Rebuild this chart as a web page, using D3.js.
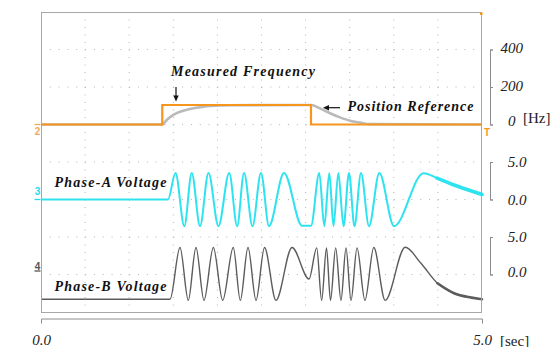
<!DOCTYPE html>
<html>
<head>
<meta charset="utf-8">
<script src="https://cdn.jsdelivr.net/npm/d3@7"></script>
<style>
  html, body { margin: 0; padding: 0; background: #fff; }
  svg { display: block; }
</style>
</head>
<body>
<script>
// ---- Channel 2: measured frequency (step) and position reference [Hz] ----
const timeFreq = [0, 1.375, 3.061, 5.0];
const freqMeasured = [0, 104, 0, 0];

const timeRef = [0, 1.375, 1.425, 1.5, 1.576, 1.689, 1.803, 1.916, 2.143, 3.061, 3.163, 3.277, 3.39, 3.503, 3.617, 3.73, 5.0];
const freqRef = [0, 0, 24, 51, 68, 83, 92, 99, 103, 104, 86, 60, 38, 20, 10, 2, 0];

// ---- Channel 3: phase-A voltage [V] (turning points of the trace) ----
const timeA = [0, 1.44, 1.525, 1.625, 1.709, 1.803, 1.899, 2.012, 2.134, 2.224, 2.302, 2.398, 2.494, 2.585,
  2.755, 2.959, 3.061, 3.155, 3.212, 3.269, 3.316, 3.371, 3.430, 3.492, 3.554, 3.628, 3.719,
  3.836, 4.002, 4.337, 4.490, 4.683, 4.864, 5.0];
const voltA = [0, 0, 3.55, -3.55, 3.55, -3.55, 3.55, -3.55, 3.55, -3.55, 3.55, -3.55, 3.55, -3.55,
  3.55, -3.5, -3.5, 3.55, -3.55, 3.55, -3.55, 3.55, -3.55, 3.55, -3.55, 3.55, -3.55,
  3.55, -3.55, 3.5, 2.85, 1.93, 1.2, 0.67];

// ---- Channel 4: phase-B voltage [V] ----
const timeB = [0, 1.463, 1.576, 1.670, 1.757, 1.848, 1.954, 2.060, 2.180, 2.260, 2.347, 2.438, 2.534, 2.664,
  2.846, 3.039, 3.126, 3.182, 3.237, 3.282, 3.341, 3.401, 3.458, 3.515, 3.583, 3.673,
  3.773, 3.902, 4.129, 4.308, 4.495, 4.683, 4.875, 5.0];
const voltB = [-3.3, -3.3, 3.6, -3.45, 3.6, -3.45, 3.6, -3.45, 3.6, -3.45, 3.6, -3.45, 3.6, -3.45,
  3.6, -0.6, 3.55, -3.45, 3.55, -3.45, 3.55, -3.45, 3.55, -3.45, 3.55, -3.45,
  3.6, -3.45, 3.63, 1.49, -1.17, -2.5, -3.07, -3.3];

// ---- Tick labels ----
const freqTicks = [0, 200, 400];
const voltTicks = [0, 5];
const timeTicks = [0, 5];

const W = 557, H = 347;
const plotL = 41, plotR = 482, plotT = 12, plotB = 312;
const serif = "'Liberation Serif', 'DejaVu Serif', serif";
const sans = "'Liberation Sans', Arial, sans-serif";

const svg = d3.select("body").append("svg").attr("width", W).attr("height", H);

const x = d3.scaleLinear().domain([0, 5]).range([plotL, plotR]);
const yF = d3.scaleLinear().domain([0, 400]).range([124.5, 49.5]);
const yA = d3.scaleLinear().domain([0, 5]).range([199.5, 162]);
const yB = d3.scaleLinear().domain([0, 5]).range([274.5, 237]);
const gridRow = d3.scaleLinear().domain([0, 8]).range([plotT, plotB]);

// dotted graticule
const grid = svg.append("g").attr("stroke", "#b4b4b4").attr("stroke-width", 1);
grid.selectAll("line.h").data(d3.range(1, 8)).join("line").attr("class", "h")
  .attr("x1", plotL).attr("x2", plotR)
  .attr("y1", d => gridRow(d)).attr("y2", d => gridRow(d))
  .attr("stroke-dasharray", "1,7.82");
grid.selectAll("line.v").data(d3.range(1, 10)).join("line").attr("class", "v")
  .attr("y1", plotT).attr("y2", plotB)
  .attr("x1", d => x(d * 0.5)).attr("x2", d => x(d * 0.5))
  .attr("stroke-dasharray", "1,6.5");

const zip = (ts, vs) => ts.map((t, i) => [t, vs[i]]);

// position reference (grey)
svg.append("path")
  .datum(zip(timeRef, freqRef))
  .attr("fill", "none").attr("stroke", "#bababa").attr("stroke-width", 2.6)
  .attr("d", d3.line().x(d => x(d[0])).y(d => yF(d[1])).curve(d3.curveMonotoneX));

// measured frequency (orange step)
svg.append("path")
  .datum(zip(timeFreq, freqMeasured))
  .attr("fill", "none").attr("stroke", "#f7961e").attr("stroke-width", 2.2)
  .attr("d", d3.line().x(d => x(d[0])).y(d => yF(d[1])).curve(d3.curveStepAfter));

// phase voltages
function trace(ts, vs, scale, color, width, tailFrom, tailWidth) {
  const pts = zip(ts, vs);
  const line = d3.line().x(d => x(d[0])).y(d => scale(d[1])).curve(d3.curveMonotoneX);
  svg.append("path").datum(pts)
    .attr("fill", "none").attr("stroke", color).attr("stroke-width", width)
    .attr("stroke-linejoin", "round").attr("d", line);
  // the slow decay at the end of the run is drawn as a wider band
  const tail = pts.filter(d => d[0] >= tailFrom);
  svg.append("path").datum(tail)
    .attr("fill", "none").attr("stroke", color).attr("stroke-width", tailWidth)
    .attr("stroke-linecap", "round").attr("d", line);
}
trace(timeA, voltA, yA, "#2ee3ef", 2, 4.49, 3.6);
trace(timeB, voltB, yB, "#5c5c5c", 1.4, 4.495, 2.6);

// screen frame, drawn above the traces
svg.append("rect")
  .attr("x", plotL + 0.5).attr("y", plotT + 0.5)
  .attr("width", plotR - plotL - 1).attr("height", plotB - plotT)
  .attr("fill", "none").attr("stroke", "#a8a8a8").attr("stroke-width", 1);

// annotations
function label(text, x0, y0, len) {
  svg.append("text").attr("x", x0).attr("y", y0)
    .attr("font-family", serif).attr("font-style", "italic").attr("font-weight", "bold")
    .attr("font-size", 14).attr("fill", "#111")
    .attr("textLength", len).attr("lengthAdjust", "spacing")
    .text(text);
}
label("Measured Frequency", 171, 76, 144);
label("Position Reference", 347.5, 110.5, 126);
label("Phase-A Voltage", 54.5, 186.8, 112);
label("Phase-B Voltage", 54.5, 290.5, 112);

// arrows
svg.append("line").attr("x1", 176).attr("x2", 176).attr("y1", 87).attr("y2", 97)
  .attr("stroke", "#111").attr("stroke-width", 1.2);
svg.append("path").attr("d", "M173.3,95.5 L178.7,95.5 L176,101.5 Z").attr("fill", "#111");
svg.append("line").attr("x1", 340).attr("x2", 327).attr("y1", 107.7).attr("y2", 107.7)
  .attr("stroke", "#111").attr("stroke-width", 1.2);
svg.append("path").attr("d", "M323,107.7 L329,105 L329,110.4 Z").attr("fill", "#111");

// right-hand bracket scales
function bracket(scale, values, fmt, cx, shifts) {
  const g = svg.append("g").attr("transform", "translate(490,0)")
    .call(d3.axisRight(scale).tickValues(values).tickFormat(fmt)
      .tickSizeInner(3).tickSizeOuter(3).tickPadding(6));
  g.select(".domain").attr("stroke", "#8c8c8c");
  g.selectAll(".tick line").attr("stroke", "#8c8c8c");
  g.selectAll(".tick text")
    .attr("x", cx).attr("text-anchor", "middle")
    .attr("y", d => shifts[d] || 0)
    .attr("font-family", serif).attr("font-style", "italic")
    .attr("font-size", 15).attr("fill", "#222");
  return g;
}
bracket(yF, freqTicks, d3.format("d"), 21.7, {0: -3.5, 200: -1, 400: -1.8});
bracket(yA, voltTicks, d3.format(".1f"), 27, {});
bracket(yB, voltTicks, d3.format(".1f"), 27, {0: -2.8});

svg.append("text").attr("x", 523).attr("y", 122.5)
  .attr("font-family", serif).attr("font-size", 15).attr("fill", "#222").text("[Hz]");

// time axis
const xa = svg.append("g").attr("transform", "translate(0,318.5)")
  .call(d3.axisBottom(x).tickValues(timeTicks).tickFormat(d3.format(".1f"))
    .tickSizeInner(0).tickSizeOuter(5).tickPadding(16));
xa.select(".domain").attr("stroke", "#8c8c8c");
xa.selectAll(".tick text")
  .attr("font-family", serif).attr("font-style", "italic")
  .attr("font-size", 15).attr("fill", "#222");
svg.append("text").attr("x", 500).attr("y", 345.5)
  .attr("font-family", serif).attr("font-size", 15).attr("fill", "#222").text("[sec]");

// channel markers on the left edge
const markers = [
  {ch: "2", y: yF(0), color: "#f2aa5a", ty: yF(0) + 10.5},
  {ch: "3", y: yA(0), color: "#22dcee", ty: yA(0) - 4.5},
  {ch: "4", y: yB(0) - 3.5, color: "#555", ty: yB(0) - 4.5}
];
markers.forEach(m => {
  svg.append("line").attr("x1", 34.5).attr("x2", 40.5).attr("y1", m.y).attr("y2", m.y)
    .attr("stroke", m.color).attr("stroke-width", 1.3);
  svg.append("text").attr("x", 37.5).attr("y", m.ty).attr("text-anchor", "middle")
    .attr("font-family", sans).attr("font-weight", "bold").attr("font-size", 10)
    .attr("fill", m.color).text(m.ch);
});

// trigger marks (orange)
svg.append("text").attr("x", 487).attr("y", 135.5).attr("text-anchor", "middle")
  .attr("font-family", sans).attr("font-weight", "bold").attr("font-size", 10)
  .attr("fill", "#f7961e").text("T");
svg.append("rect").attr("x", 480).attr("y", 12.5).attr("width", 2.5).attr("height", 2.5)
  .attr("fill", "#f7961e");
</script>
</body>
</html>
